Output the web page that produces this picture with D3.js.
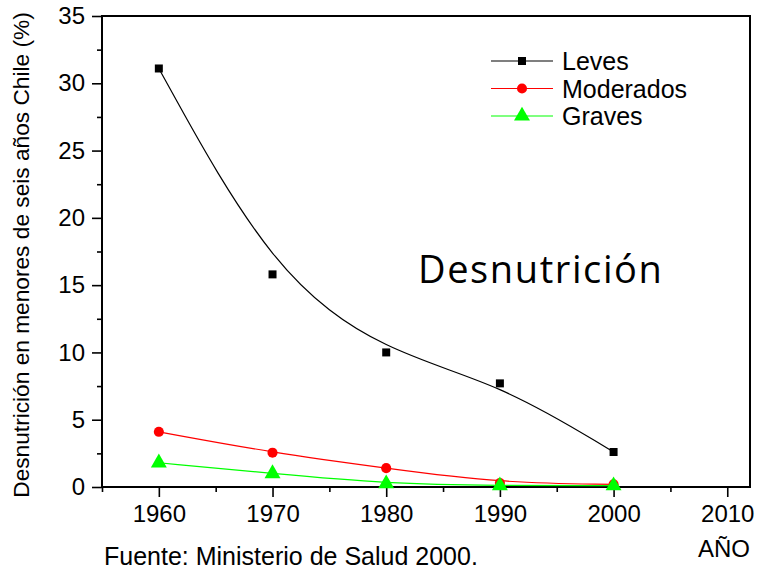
<!DOCTYPE html>
<html>
<head>
<meta charset="utf-8">
<script src="https://cdn.jsdelivr.net/npm/d3@7"></script>
<style>
  body { margin: 0; background: #fff; }
  text { font-family: "Liberation Sans", Arial, sans-serif; fill: #000; }
</style>
</head>
<body>
<div id="app"></div>
<script>
var years = [1960, 1970, 1980, 1990, 2000];
var leves = [31.1, 15.8, 10.0, 7.7, 2.6];
var moderados = [4.1, 2.55, 1.4, 0.3, 0.2];
var graves = [1.8, 1.0, 0.25, 0.1, 0.1];
var seriesNames = ["Leves", "Moderados", "Graves"];
var xTicks = [1960, 1970, 1980, 1990, 2000, 2010];
var yTicks = [0, 5, 10, 15, 20, 25, 30, 35];

var svgWidth = 759, svgHeight = 573;
var margin = { top: 16, right: 9, bottom: 86, left: 102 };
var planeWidth = svgWidth - margin.left - margin.right;
var planeHeight = svgHeight - margin.top - margin.bottom;

var svg = d3.select("#app").append("svg")
    .attr("width", svgWidth)
    .attr("height", svgHeight);

var g = svg.append("g")
    .attr("transform", "translate(" + margin.left + "," + margin.top + ")");

var x = d3.scaleLinear().domain([1955, 2012]).range([0, planeWidth]);
var y = d3.scaleLinear().domain([0, 35]).range([planeHeight, 0]);

// minor ticks
var xAxisMinor = d3.axisBottom(x).tickValues(d3.range(1955, 2011, 10)).tickSize(5).tickFormat("");
var yAxisMinor = d3.axisLeft(y).tickValues(d3.range(2.5, 35, 5)).tickSize(5).tickFormat("");
g.append("g").attr("transform", "translate(0," + planeHeight + ")").call(xAxisMinor);
g.append("g").call(yAxisMinor);

// major axes
var xAxis = d3.axisBottom(x).tickValues(xTicks).tickSize(10).tickSizeOuter(0).tickPadding(8).tickFormat(d3.format("d"));
var yAxis = d3.axisLeft(y).tickValues(yTicks).tickSize(10).tickSizeOuter(0).tickPadding(7);
g.append("g").attr("class", "x-axis").attr("transform", "translate(0," + planeHeight + ")").call(xAxis);
g.append("g").attr("class", "y-axis").call(yAxis);

g.selectAll(".domain").remove();
g.selectAll(".tick line").attr("stroke", "#000").attr("stroke-width", 1.6);
g.selectAll(".tick text")
    .style("font-size", "24px")
    .style("font-family", "'Liberation Sans', Arial, sans-serif");

// frame
g.append("rect")
    .attr("width", planeWidth).attr("height", planeHeight)
    .attr("fill", "none").attr("stroke", "#000").attr("stroke-width", 2);

var series = [
  { name: seriesNames[0], values: leves, color: "#000000", shape: d3.symbolSquare, size: 64 },
  { name: seriesNames[1], values: moderados, color: "#ff0000", shape: d3.symbolCircle, size: 80 },
  { name: seriesNames[2], values: graves, color: "#00ff00", shape: d3.symbolTriangle, size: 110 }
];

var line = d3.line()
    .x(function(d) { return x(d[0]); })
    .y(function(d) { return y(d[1]); })
    .curve(d3.curveBasis);

series.forEach(function(s) {
  var pts = years.map(function(yr, i) { return [yr, s.values[i]]; });
  g.append("path").datum(pts)
      .attr("d", line)
      .attr("fill", "none")
      .attr("stroke", s.color)
      .attr("stroke-width", 1.2);
  g.selectAll(null).data(pts).enter().append("path")
      .attr("d", d3.symbol().type(s.shape).size(s.size))
      .attr("transform", function(d) { return "translate(" + x(d[0]) + "," + y(d[1]) + ")"; })
      .attr("fill", s.color);
});

// legend
var legend = svg.append("g").attr("transform", "translate(491,61)");
series.forEach(function(s, i) {
  var row = legend.append("g").attr("transform", "translate(0," + (i * 27.5) + ")");
  row.append("line").attr("x1", 0).attr("x2", 62).attr("y1", 0).attr("y2", 0)
      .attr("stroke", s.color).attr("stroke-width", 1.2);
  row.append("path").attr("d", d3.symbol().type(s.shape).size(s.size))
      .attr("transform", "translate(31,0)").attr("fill", s.color);
  row.append("text").attr("x", 71).attr("y", 9).style("font-size", "25px").text(s.name);
});

// annotation
svg.append("text")
    .attr("x", 418).attr("y", 283)
    .style("font-family", "'Open Sans', 'Noto Sans', sans-serif")
    .style("font-size", "38px")
    .style("letter-spacing", "1.6px")
    .text("Desnutrición");

// y title
svg.append("text")
    .attr("transform", "translate(29,255) rotate(-90)")
    .attr("text-anchor", "middle")
    .style("font-size", "22.7px")
    .text("Desnutrición en menores de seis años Chile (%)");

svg.append("text")
    .attr("x", 724).attr("y", 557)
    .attr("text-anchor", "middle")
    .style("font-size", "24px")
    .text("AÑO");

svg.append("text")
    .attr("x", 104).attr("y", 565)
    .style("font-size", "25px")
    .text("Fuente: Ministerio de Salud 2000.");
</script>
</body>
</html>
